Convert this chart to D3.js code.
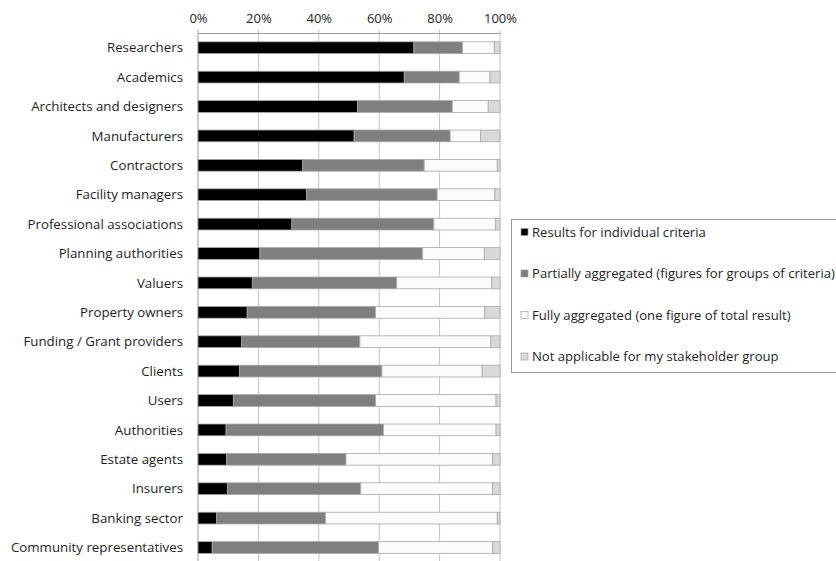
<!DOCTYPE html>
<html>
<head>
<meta charset="utf-8">
<script src="https://cdn.jsdelivr.net/npm/d3@7"></script>
<style>
  html, body { margin: 0; padding: 0; background: #fff; }
  svg { display: block; font-family: "Open Sans", Lato, sans-serif; }
</style>
</head>
<body>
<svg id="chart" width="836" height="561"></svg>
<script>
// Stakeholder groups, top to bottom
const categories = [
  "Researchers", "Academics", "Architects and designers", "Manufacturers",
  "Contractors", "Facility managers", "Professional associations",
  "Planning authorities", "Valuers", "Property owners",
  "Funding / Grant providers", "Clients", "Users", "Authorities",
  "Estate agents", "Insurers", "Banking sector", "Community representatives"
];

// Share of respondents (%) per answer
const individual = [71.5, 68.3, 52.8, 51.7, 34.7, 36.0, 31.1, 20.5, 18.0, 16.3, 14.5, 13.7, 11.7, 9.3, 9.5, 9.8, 6.2, 4.7];
const partial    = [16.1, 18.2, 31.4, 31.8, 40.2, 43.2, 47.0, 53.9, 47.8, 42.5, 39.1, 47.2, 47.1, 52.1, 39.5, 44.1, 36.0, 55.1];
const full       = [10.5, 10.2, 11.9, 10.1, 24.2, 19.1, 20.5, 20.4, 31.4, 36.2, 43.4, 33.2, 39.9, 37.3, 48.6, 43.6, 56.9, 37.8];
const notApplicable = [1.9, 3.3, 3.9, 6.4, 0.9, 1.7, 1.4, 5.2, 2.8, 5.0, 3.0, 5.9, 1.3, 1.3, 2.4, 2.5, 0.9, 2.4];

const seriesLabels = [
  "Results for individual criteria",
  "Partially aggregated (figures for groups of criteria)",
  "Fully aggregated (one figure of total result)",
  "Not applicable for my stakeholder group"
];
const tickValues = [0, 20, 40, 60, 80, 100];

const keys = ["individual", "partial", "full", "na"];
const colors = ["#000000", "#7f7f7f", "#fbfbfb", "#d9d9d9"];

const rows = categories.map((c, i) => ({
  category: c,
  individual: individual[i],
  partial: partial[i],
  full: full[i],
  na: notApplicable[i]
}));

const svg = d3.select("#chart");

const x = d3.scaleLinear().domain([0, 100]).range([198, 500]);
const y = d3.scaleBand().domain(categories).range([33, 33 + 18 * 29.4]).paddingInner(0.6).paddingOuter(0.3);

// vertical gridlines
svg.append("g")
  .selectAll("line")
  .data(tickValues)
  .join("line")
  .attr("x1", d => x(d)).attr("x2", d => x(d))
  .attr("y1", 30).attr("y2", 561)
  .attr("stroke", d => d === 0 ? "#9a9a9a" : "#c4c4c4")
  .attr("stroke-width", 1);

// top axis
const axis = d3.axisTop(x)
  .tickValues(tickValues)
  .tickFormat(d => d + "%")
  .tickSizeInner(0)
  .tickSizeOuter(0)
  .tickPadding(10);

const gAxis = svg.append("g")
  .attr("transform", "translate(0,33)")
  .call(axis);
gAxis.select(".domain").attr("stroke", "#9a9a9a");
gAxis.selectAll("text")
  .attr("font-family", "'Open Sans', Lato, sans-serif")
  .attr("font-size", 13)
  .attr("fill", "#1e1e1e");

// stacked bars
const stack = d3.stack().keys(keys);
const layers = stack(rows);

svg.append("g")
  .selectAll("g")
  .data(layers)
  .join("g")
  .attr("fill", (d, i) => colors[i])
  .selectAll("rect")
  .data(d => d)
  .join("rect")
  .attr("x", d => x(d[0]))
  .attr("y", d => y(d.data.category))
  .attr("width", d => Math.max(0, x(d[1]) - x(d[0])))
  .attr("height", y.bandwidth())
  .attr("stroke", "#a8a8a8")
  .attr("stroke-width", 0.8);

// category labels
svg.append("g")
  .selectAll("text")
  .data(categories)
  .join("text")
  .attr("x", 183)
  .attr("y", d => y(d) + y.bandwidth() / 2)
  .attr("dy", "0.35em")
  .attr("text-anchor", "end")
  .attr("font-size", 13.3)
  .attr("fill", "#1e1e1e")
  .text(d => d);

// legend
const legend = svg.append("g");
legend.append("rect")
  .attr("x", 511.5).attr("y", 219.5)
  .attr("width", 340).attr("height", 153)
  .attr("fill", "#fff")
  .attr("stroke", "#9a9a9a")
  .attr("stroke-width", 1);

const item = legend.selectAll("g.item")
  .data(seriesLabels)
  .join("g")
  .attr("class", "item")
  .attr("transform", (d, i) => `translate(521,${232 + i * 41.5})`);

item.append("rect")
  .attr("x", 0).attr("y", -3.5)
  .attr("width", 7).attr("height", 7)
  .attr("fill", (d, i) => colors[i])
  .attr("stroke", "#a0a0a0")
  .attr("stroke-width", 0.7);

item.append("text")
  .attr("x", 11)
  .attr("y", 0)
  .attr("dy", "0.35em")
  .attr("font-size", 13.1)
  .attr("fill", "#1e1e1e")
  .text(d => d);
</script>
</body>
</html>
